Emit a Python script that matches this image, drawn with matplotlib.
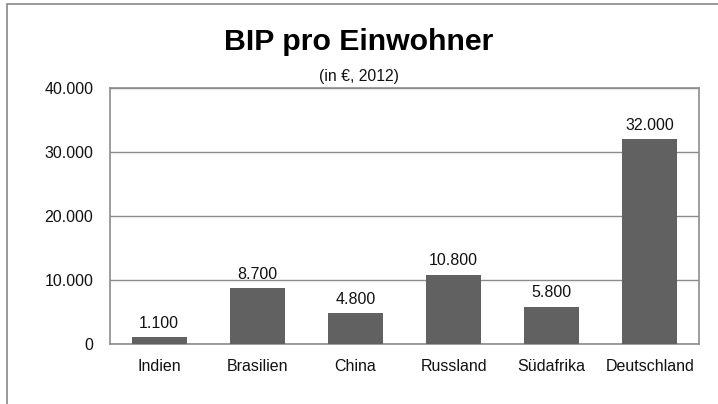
import matplotlib
matplotlib.use('Agg')
import matplotlib.pyplot as plt
from matplotlib.patches import Rectangle
from matplotlib.ticker import FuncFormatter

plt.rcParams['font.family'] = ['Liberation Sans', 'DejaVu Sans']

countries = ['Indien', 'Brasilien', 'China', 'Russland', 'Südafrika', 'Deutschland']
gdp_per_capita = [1100, 8700, 4800, 10800, 5800, 32000]
y_ticks = [0, 10000, 20000, 30000, 40000]


def de_fmt(v):
    return f'{v:,.0f}'.replace(',', '.')


W, H = 718, 404
fig = plt.figure(figsize=(W / 100, H / 100), dpi=100)

# outer chart frame (runs off the right/bottom edge like the reference)
fig.patches.append(Rectangle((7 / W, -0.1), 1.5, (H - 4) / H + 0.1,
                             transform=fig.transFigure, fill=False,
                             edgecolor='#878787', linewidth=1.2))

ax = fig.add_axes([110 / W, (H - 344) / H, (699 - 110) / W, (344 - 88) / H])

x = range(len(countries))
bars = ax.bar(x, gdp_per_capita, width=0.56, color='#616161', zorder=3)
for b, v in zip(bars, gdp_per_capita):
    ax.text(b.get_x() + b.get_width() / 2, v + 1000, de_fmt(v),
            ha='center', va='bottom', fontsize=11.5, color='#111111')

ax.set_xlim(-0.5, len(countries) - 0.5)
ax.set_ylim(0, 40000)
ax.set_yticks(y_ticks)
ax.yaxis.set_major_formatter(FuncFormatter(lambda v, p: de_fmt(v)))
ax.set_xticks(list(x))
ax.set_xticklabels(countries)
ax.tick_params(axis='both', length=0, labelsize=11.5, colors='#111111')
ax.tick_params(axis='y', pad=12)
ax.tick_params(axis='x', pad=11)
ax.grid(axis='y', color='#8c8c8c', linewidth=1.0, zorder=0)
for s in ax.spines.values():
    s.set_color('#8c8c8c')
    s.set_linewidth(1.2)

fig.text(0.5, (H - 50) / H, 'BIP pro Einwohner', ha='center', va='baseline',
         fontsize=21.8, fontweight='bold', color='black')
fig.text(0.5, (H - 76) / H, '(in €, 2012)', ha='center', va='center',
         fontsize=11.3, color='#111111')

fig.savefig('out.png', dpi=100)
